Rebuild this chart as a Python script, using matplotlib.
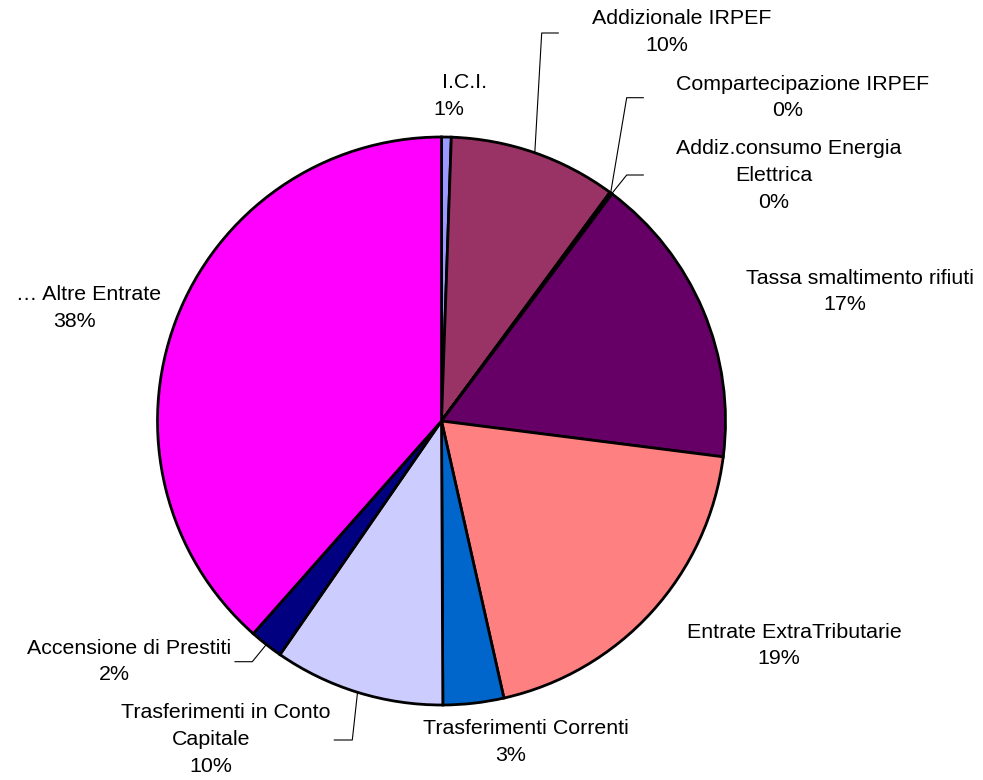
import matplotlib
matplotlib.use("Agg")
import matplotlib.pyplot as plt
import numpy as np

plt.rcParams['font.family'] = ['Liberation Sans', 'DejaVu Sans']

categories = ["I.C.I.", "Addizionale IRPEF", "Compartecipazione IRPEF",
              "Addiz.consumo Energia\nElettrica", "Tassa smaltimento rifiuti",
              "Entrate ExtraTributarie", "Trasferimenti Correnti",
              "Trasferimenti in Conto\nCapitale", "Accensione di Prestiti",
              "… Altre Entrate"]
values = [0.55, 9.55, 0.1, 0.05, 16.75, 19.45, 3.45, 9.7, 1.9, 38.45]
colors = ["#9999FF", "#993366", "#FFFFCC", "#CCFFFF", "#660066",
          "#FF8080", "#0066CC", "#CCCCFF", "#000080", "#FF00FF"]

W, H = 983, 780
fig = plt.figure(figsize=(W / 100, H / 100), dpi=100)
ax = fig.add_axes([0, 0, 1, 1])

def Y(yp):
    return H - yp

cx, cy, R = 441.5, Y(421), 284
wedges, _ = ax.pie(values, colors=colors, startangle=90, counterclock=False,
                   center=(cx, cy), radius=R,
                   wedgeprops=dict(edgecolor="black", linewidth=2))
ax.set_xlim(0, W)
ax.set_ylim(0, H)
ax.set_aspect('equal')
ax.axis('off')

total = sum(values)
pcts = [f"{round(v / total * 100):d}%" for v in values]

# label layout: (center x of percentage line, first-line y in px), optional leader (elbow, end)
layout = {
    0: ((449, 83), None),
    1: ((667, 19), ((541.7, 33), (558.3, 33))),
    2: ((788, 84), ((626.7, 97.7), (643.3, 97.7))),
    3: ((774, 149), ((626.7, 175), (643.3, 175))),
    4: ((845, 278), None),
    5: ((779, 632), None),
    6: ((511, 729), None),
    7: ((211, 713), ((352.3, 740), (334.3, 740))),
    8: ((114, 648), ((252.3, 661.7), (235, 661.7))),
    9: ((74, 295), None),
}
first_shift = 15
line_h = 26.8
fs = 15.4
for i, w in enumerate(wedges):
    (tx, ty), leader = layout[i]
    lines = categories[i].split("\n") + [pcts[i]]
    for k, s in enumerate(lines):
        x = tx + (first_shift if k == 0 else 0)
        ax.text(x, Y(ty + k * line_h), s, ha='center', va='center', fontsize=fs)
    if leader is not None:
        ang = np.deg2rad((w.theta1 + w.theta2) / 2)
        ax0 = cx + R * np.cos(ang)
        ay0 = cy + R * np.sin(ang)
        (ex, ey), (fx, fy) = leader
        ax.plot([ax0, ex, fx], [ay0, Y(ey), Y(fy)], color='black', lw=0.8)

fig.savefig("out.png", dpi=100)
